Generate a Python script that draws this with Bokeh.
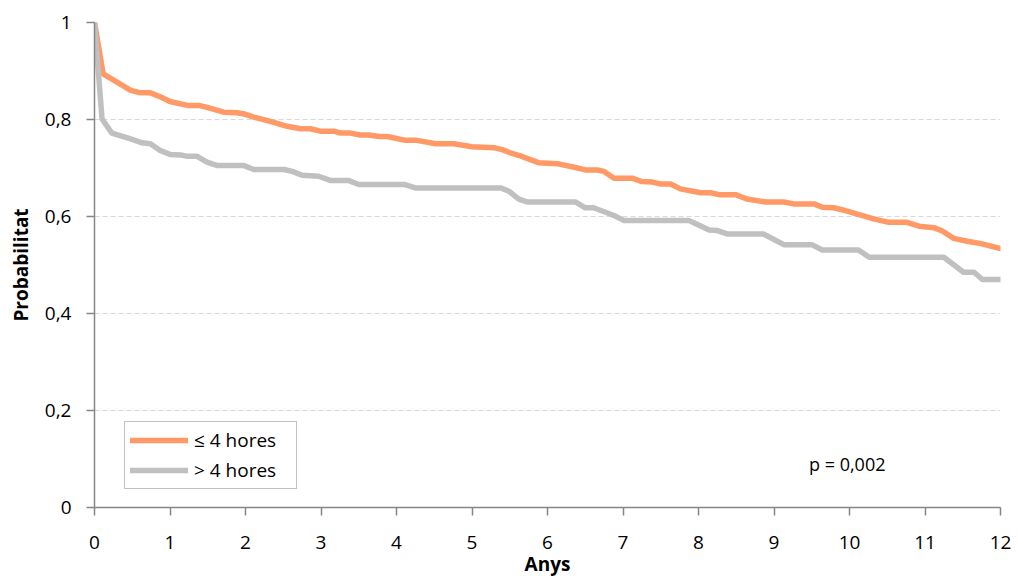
from bokeh.plotting import figure
from bokeh.models import Range1d, Legend, LegendItem, FixedTicker, Label
from bokeh.embed import file_html
from bokeh.resources import INLINE

# Series: <= 4 hores (orange)
x_le4 = [0.0, 0.115, 0.48, 0.61, 0.74, 0.87, 1.0, 1.23, 1.38, 1.49, 1.71, 1.89, 1.97, 2.11, 2.33,
         2.55, 2.73, 2.86, 2.99, 3.17, 3.26, 3.39, 3.52, 3.63, 3.77, 3.88, 4.12, 4.27, 4.52, 4.76,
         5.0, 5.29, 5.40, 5.53, 5.64, 5.88, 6.13, 6.37, 6.50, 6.66, 6.75, 6.88, 7.12, 7.25, 7.39,
         7.50, 7.63, 7.76, 8.03, 8.16, 8.27, 8.49, 8.64, 8.89, 9.13, 9.26, 9.53, 9.64, 9.79, 9.90,
         10.15, 10.32, 10.52, 10.76, 10.92, 11.12, 11.23, 11.38, 11.56, 11.74, 12.0]
y_le4 = [1.0, 0.894, 0.86, 0.855, 0.855, 0.847, 0.837, 0.829, 0.829, 0.825, 0.815, 0.814, 0.812, 0.805, 0.796,
         0.786, 0.781, 0.781, 0.776, 0.776, 0.772, 0.772, 0.768, 0.768, 0.765, 0.765, 0.757, 0.757, 0.750, 0.750,
         0.744, 0.742, 0.738, 0.730, 0.725, 0.711, 0.709, 0.701, 0.696, 0.696, 0.693, 0.679, 0.679, 0.672, 0.671,
         0.667, 0.667, 0.657, 0.649, 0.649, 0.645, 0.645, 0.636, 0.630, 0.630, 0.626, 0.626, 0.619, 0.618, 0.614,
         0.603, 0.595, 0.588, 0.588, 0.580, 0.577, 0.570, 0.555, 0.549, 0.544, 0.534]

# Series: > 4 hores (gray)
x_gt4 = [0.0, 0.10, 0.23, 0.48, 0.63, 0.74, 0.87, 1.0, 1.14, 1.23, 1.36, 1.49, 1.63, 1.98, 2.11, 2.51,
         2.62, 2.75, 2.97, 3.13, 3.37, 3.50, 4.10, 4.25, 5.38, 5.49, 5.62, 5.73, 6.37, 6.50, 6.61,
         6.88, 7.01, 7.87, 7.98, 8.14, 8.25, 8.38, 8.86, 9.13, 9.50, 9.64, 10.12, 10.26, 11.25, 11.51,
         11.65, 11.76, 12.0]
y_gt4 = [1.0, 0.801, 0.772, 0.760, 0.752, 0.750, 0.736, 0.728, 0.727, 0.724, 0.724, 0.712, 0.705, 0.705, 0.697, 0.697,
         0.693, 0.685, 0.683, 0.674, 0.674, 0.666, 0.666, 0.659, 0.659, 0.652, 0.636, 0.630, 0.630, 0.618, 0.618,
         0.602, 0.592, 0.592, 0.584, 0.572, 0.571, 0.564, 0.564, 0.542, 0.542, 0.531, 0.531, 0.516, 0.516, 0.485,
         0.485, 0.470, 0.470]

x_ticks = [0, 1, 2, 3, 4, 5, 6, 7, 8, 9, 10, 11, 12]
y_ticks = [0, 0.2, 0.4, 0.6, 0.8, 1.0]
y_tick_labels = ["0", "0,2", "0,4", "0,6", "0,8", "1"]
series_names = ["\u2264 4 hores", "> 4 hores"]
x_title = "Anys"
y_title = "Probabilitat"
p_text = "p = 0,002"

FONT = "Open Sans"
AXIS_COLOR = "#868686"

p = figure(width=1018, height=579, output_backend="svg", toolbar_location=None,
           x_range=Range1d(0, 12), y_range=Range1d(0, 1),
           min_border_left=94, min_border_right=18, min_border_top=22, min_border_bottom=72)
p.outline_line_color = None
p.background_fill_color = "white"

r1 = p.line(x_le4, y_le4, line_color="#FF9966", line_width=5.5, line_join="round", line_cap="round")
r2 = p.line(x_gt4, y_gt4, line_color="#C0C0C0", line_width=5.5, line_join="round", line_cap="round")

# axes
p.xaxis.ticker = FixedTicker(ticks=x_ticks)
p.yaxis.ticker = FixedTicker(ticks=y_ticks)
p.yaxis.major_label_overrides = {t: l for t, l in zip(y_ticks, y_tick_labels)}
for ax in (p.xaxis[0], p.yaxis[0]):
    ax.axis_line_color = AXIS_COLOR
    ax.axis_line_width = 1.5
    ax.major_tick_line_color = AXIS_COLOR
    ax.major_tick_line_width = 1.5
    ax.major_tick_in = 0
    ax.major_tick_out = 8
    ax.minor_tick_line_color = None
    ax.major_label_text_font = FONT
    ax.major_label_text_font_size = "19px"
    ax.major_label_text_color = "#000000"
    ax.axis_label_text_font = FONT
    ax.axis_label_text_font_size = "19px"
    ax.axis_label_text_font_style = "bold"
    ax.axis_label_text_color = "#000000"
p.xaxis.axis_label = x_title
p.yaxis.axis_label = y_title
p.xaxis.major_label_standoff = 20
p.xaxis.axis_label_standoff = -1
p.yaxis.major_label_standoff = 15
p.yaxis.axis_label_standoff = 8

p.xgrid.grid_line_color = None
p.ygrid.grid_line_color = "#D9D9D9"
p.ygrid.grid_line_dash = "5 3"
p.ygrid.grid_line_width = 1

legend = Legend(items=[LegendItem(label=series_names[0], renderers=[r1]),
                       LegendItem(label=series_names[1], renderers=[r2])],
                location=(30, 18))
legend.border_line_color = AXIS_COLOR
legend.border_line_width = 1.5
legend.background_fill_color = "white"
legend.background_fill_alpha = 1
legend.label_text_font = FONT
legend.label_text_font_size = "19px"
legend.label_text_color = "#000000"
legend.glyph_width = 58
legend.glyph_height = 24
legend.label_height = 24
legend.label_width = 97
legend.label_standoff = 6
legend.spacing = 4
legend.padding = 5
legend.margin = 0
p.add_layout(legend, "center")

p.add_layout(Label(x=9.97, y=0.089, text=p_text, text_font=FONT, text_font_size="18px",
                   text_align="center", text_baseline="middle", text_color="#000000"))

open("out.html", "w").write(file_html(p, INLINE))
